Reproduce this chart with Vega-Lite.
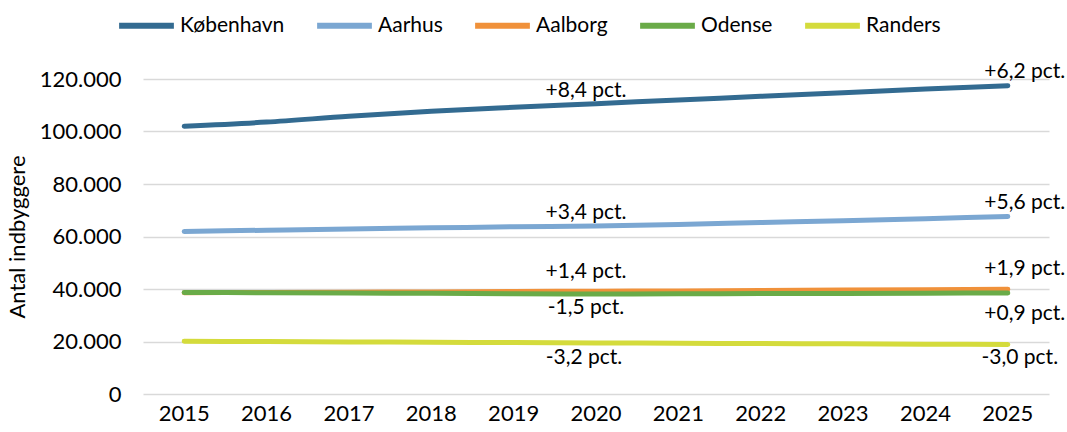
{
  "$schema": "https://vega.github.io/schema/vega-lite/v6.json",
  "width": 906,
  "height": 315,
  "autosize": "none",
  "padding": {"left": 143, "top": 79, "right": 18, "bottom": 38},
  "config": {
    "locale": {"number": {"decimal": ",", "thousands": ".", "grouping": [3], "currency": ["", " kr."]}},
    "view": {"stroke": null},
    "font": "Lato"
  },
  "data": {
    "values": [
      {"city": "København", "year": "2015", "value": 102000, "label": ""},
      {"city": "København", "year": "2016", "value": 103600, "label": ""},
      {"city": "København", "year": "2017", "value": 105800, "label": ""},
      {"city": "København", "year": "2018", "value": 107700, "label": ""},
      {"city": "København", "year": "2019", "value": 109200, "label": ""},
      {"city": "København", "year": "2020", "value": 110600, "label": "+8,4 pct."},
      {"city": "København", "year": "2021", "value": 112000, "label": ""},
      {"city": "København", "year": "2022", "value": 113400, "label": ""},
      {"city": "København", "year": "2023", "value": 114800, "label": ""},
      {"city": "København", "year": "2024", "value": 116200, "label": ""},
      {"city": "København", "year": "2025", "value": 117450, "label": "+6,2 pct."},
      {"city": "Aarhus", "year": "2015", "value": 61900, "label": ""},
      {"city": "Aarhus", "year": "2016", "value": 62400, "label": ""},
      {"city": "Aarhus", "year": "2017", "value": 62900, "label": ""},
      {"city": "Aarhus", "year": "2018", "value": 63300, "label": ""},
      {"city": "Aarhus", "year": "2019", "value": 63700, "label": ""},
      {"city": "Aarhus", "year": "2020", "value": 64000, "label": "+3,4 pct."},
      {"city": "Aarhus", "year": "2021", "value": 64600, "label": ""},
      {"city": "Aarhus", "year": "2022", "value": 65300, "label": ""},
      {"city": "Aarhus", "year": "2023", "value": 66000, "label": ""},
      {"city": "Aarhus", "year": "2024", "value": 66800, "label": ""},
      {"city": "Aarhus", "year": "2025", "value": 67600, "label": "+5,6 pct."},
      {"city": "Aalborg", "year": "2015", "value": 38600, "label": ""},
      {"city": "Aalborg", "year": "2016", "value": 38700, "label": ""},
      {"city": "Aalborg", "year": "2017", "value": 38800, "label": ""},
      {"city": "Aalborg", "year": "2018", "value": 38900, "label": ""},
      {"city": "Aalborg", "year": "2019", "value": 39050, "label": ""},
      {"city": "Aalborg", "year": "2020", "value": 39140, "label": "+1,4 pct."},
      {"city": "Aalborg", "year": "2021", "value": 39280, "label": ""},
      {"city": "Aalborg", "year": "2022", "value": 39430, "label": ""},
      {"city": "Aalborg", "year": "2023", "value": 39580, "label": ""},
      {"city": "Aalborg", "year": "2024", "value": 39730, "label": ""},
      {"city": "Aalborg", "year": "2025", "value": 39880, "label": "+1,9 pct."},
      {"city": "Odense", "year": "2015", "value": 38700, "label": ""},
      {"city": "Odense", "year": "2016", "value": 38580, "label": ""},
      {"city": "Odense", "year": "2017", "value": 38460, "label": ""},
      {"city": "Odense", "year": "2018", "value": 38340, "label": ""},
      {"city": "Odense", "year": "2019", "value": 38220, "label": ""},
      {"city": "Odense", "year": "2020", "value": 38120, "label": "-1,5 pct."},
      {"city": "Odense", "year": "2021", "value": 38190, "label": ""},
      {"city": "Odense", "year": "2022", "value": 38260, "label": ""},
      {"city": "Odense", "year": "2023", "value": 38330, "label": ""},
      {"city": "Odense", "year": "2024", "value": 38400, "label": ""},
      {"city": "Odense", "year": "2025", "value": 38460, "label": "+0,9 pct."},
      {"city": "Randers", "year": "2015", "value": 20100, "label": ""},
      {"city": "Randers", "year": "2016", "value": 19970, "label": ""},
      {"city": "Randers", "year": "2017", "value": 19850, "label": ""},
      {"city": "Randers", "year": "2018", "value": 19720, "label": ""},
      {"city": "Randers", "year": "2019", "value": 19590, "label": ""},
      {"city": "Randers", "year": "2020", "value": 19460, "label": "-3,2 pct."},
      {"city": "Randers", "year": "2021", "value": 19340, "label": ""},
      {"city": "Randers", "year": "2022", "value": 19230, "label": ""},
      {"city": "Randers", "year": "2023", "value": 19110, "label": ""},
      {"city": "Randers", "year": "2024", "value": 19000, "label": ""},
      {"city": "Randers", "year": "2025", "value": 18880, "label": "-3,0 pct."}
    ]
  },
  "encoding": {
    "x": {
      "field": "year", "type": "ordinal",
      "scale": {"type": "band", "paddingInner": 0, "paddingOuter": 0},
      "axis": {"title": null, "labelAngle": 0, "labelFontSize": 22, "labelColor": "#000000", "labelPadding": 9, "ticks": false, "domain": false, "grid": false, "labelFont": "Lato"}
    },
    "y": {
      "field": "value", "type": "quantitative",
      "scale": {"domain": [0, 120000], "nice": false},
      "axis": {"title": "Antal indbyggere", "titleFontSize": 22, "titleFontWeight": "normal", "titleColor": "#000000", "titlePadding": 10, "values": [0, 20000, 40000, 60000, 80000, 100000, 120000], "format": ",d", "labelFontSize": 22, "labelColor": "#000000", "labelPadding": 22, "labelOverlap": false, "ticks": false, "domain": false, "gridColor": "#d9d9d9", "gridWidth": 1.5, "labelFont": "Lato", "titleFont": "Lato"}
    }
  },
  "layer": [
    {
      "mark": {"type": "line", "strokeWidth": 5, "strokeCap": "round", "interpolate": "monotone"},
      "encoding": {
        "color": {
          "field": "city", "type": "nominal",
          "scale": {"domain": ["København", "Aarhus", "Aalborg", "Odense", "Randers"], "range": ["#336b91", "#7ba7d2", "#f0913a", "#6aab48", "#d4db3c"]},
          "legend": {"title": null, "orient": "none", "direction": "horizontal", "legendX": -27, "legendY": -84, "symbolType": "stroke", "symbolSize": 3000, "symbolStrokeWidth": 6, "labelFontSize": 21, "labelColor": "#000000", "labelOffset": 3, "columnPadding": 20, "labelFont": "Lato", "labelLimit": 300}
        },
        "order": {"field": "city", "sort": "descending"}
      }
    },
    {
      "transform": [{"filter": "datum.label != '' && datum.year == '2020' && (datum.city == 'København' || datum.city == 'Aarhus')"}],
      "mark": {"type": "text", "fontSize": 21, "baseline": "middle", "dy": -13, "dx": -10, "color": "#000000", "font": "Lato"},
      "encoding": {"text": {"field": "label"}}
    },
    {
      "transform": [{"filter": "datum.label != '' && datum.year == '2025' && (datum.city == 'København' || datum.city == 'Aarhus')"}],
      "mark": {"type": "text", "fontSize": 21, "baseline": "middle", "dy": -14, "dx": 17, "color": "#000000", "font": "Lato"},
      "encoding": {"text": {"field": "label"}}
    },
    {
      "transform": [{"filter": "datum.label != '' && datum.year == '2020' && datum.city == 'Aalborg'"}],
      "mark": {"type": "text", "fontSize": 21, "baseline": "middle", "dy": -19, "dx": -10, "color": "#000000", "font": "Lato"},
      "encoding": {"text": {"field": "label"}}
    },
    {
      "transform": [{"filter": "datum.label != '' && datum.year == '2025' && datum.city == 'Aalborg'"}],
      "mark": {"type": "text", "fontSize": 21, "baseline": "middle", "dy": -20, "dx": 17, "color": "#000000", "font": "Lato"},
      "encoding": {"text": {"field": "label"}}
    },
    {
      "transform": [{"filter": "datum.label != '' && datum.year == '2020' && datum.city == 'Odense'"}],
      "mark": {"type": "text", "fontSize": 21, "baseline": "middle", "dy": 14, "dx": -10, "color": "#000000", "font": "Lato"},
      "encoding": {"text": {"field": "label"}}
    },
    {
      "transform": [{"filter": "datum.label != '' && datum.year == '2025' && datum.city == 'Odense'"}],
      "mark": {"type": "text", "fontSize": 21, "baseline": "middle", "dy": 21, "dx": 17, "color": "#000000", "font": "Lato"},
      "encoding": {"text": {"field": "label"}}
    },
    {
      "transform": [{"filter": "datum.label != '' && datum.year == '2020' && datum.city == 'Randers'"}],
      "mark": {"type": "text", "fontSize": 21, "baseline": "middle", "dy": 15, "dx": -12, "color": "#000000", "font": "Lato"},
      "encoding": {"text": {"field": "label"}}
    },
    {
      "transform": [{"filter": "datum.label != '' && datum.year == '2025' && datum.city == 'Randers'"}],
      "mark": {"type": "text", "fontSize": 21, "baseline": "middle", "dy": 14, "dx": 12, "color": "#000000", "font": "Lato"},
      "encoding": {"text": {"field": "label"}}
    }
  ]
}
